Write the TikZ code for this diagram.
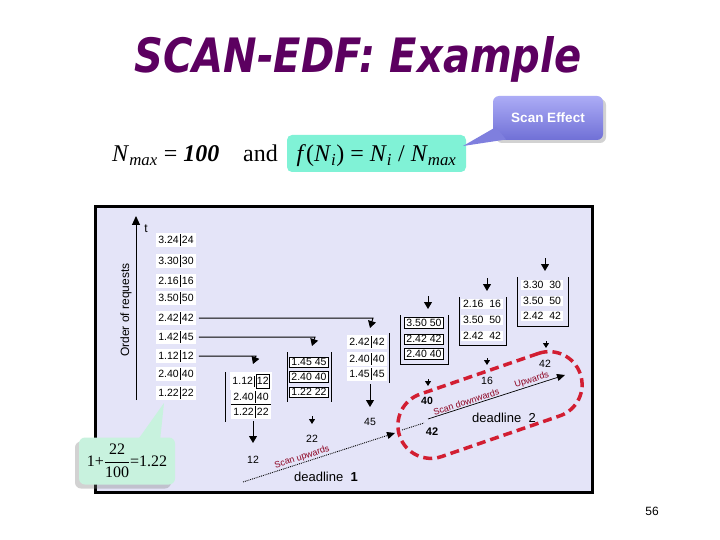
\documentclass[tikz,border=0pt]{standalone}
\usepackage{fontspec}
\setmainfont{Liberation Serif}
\setsansfont{Liberation Sans}
\newfontfamily\titlefont{DejaVu Sans}
\usetikzlibrary{arrows.meta,shadows,calc}
\definecolor{lav}{RGB}{228,228,248}
\definecolor{titlepurple}{RGB}{92,0,96}
\definecolor{aqua}{RGB}{128,242,214}
\definecolor{scanred}{RGB}{210,30,50}
\definecolor{darkred}{RGB}{140,0,30}
\definecolor{mint}{RGB}{200,242,222}
\definecolor{effTop}{RGB}{172,172,246}
\definecolor{effBot}{RGB}{112,112,214}
\newcommand{\pr}[2]{#1\hspace{1.2pt}\vrule width 0.7pt height 9pt depth 2.5pt\hspace{1.2pt}#2}
\tikzset{
  ent/.style={fill=white, inner xsep=2pt, inner ysep=1.5pt, font=\sffamily\fontsize{10.5}{10.5}\selectfont},
  boxent/.style={ent, draw=black, line width=0.6pt},
  conn/.style={line width=1pt, -{Triangle[width=8pt,length=7pt]}},
  smallmark/.style={line width=1pt, -{Triangle[width=6pt,length=5pt]}},
  frame/.style={line width=0.9pt},
  num/.style={font=\sffamily\fontsize{10.5}{10.5}\selectfont, inner sep=1pt},
  scanlbl/.style={text=darkred, font=\sffamily\fontsize{9}{9}\selectfont, inner sep=0.8pt},
  dl/.style={font=\sffamily\fontsize{13}{13}\selectfont}
}
\begin{document}
\begin{tikzpicture}[x=1pt,y=-1pt]
\useasboundingbox (0,0) rectangle (720,540);
\fill[white] (0,0) rectangle (720,540);

% title
\node[anchor=base, text=titlepurple, inner sep=0] (title) at (358,73)
  {\resizebox{447pt}{36pt}{\titlefont\bfseries\itshape SCAN-EDF: Example}};

% formula line
\node[anchor=base west, inner sep=0, font=\fontsize{24}{24}\selectfont] (nmax) at (112,162)
  {\textit{N}\textsubscript{\textit{max}} = \textbf{\textit{100}}};
\node[anchor=base west, inner sep=0, font=\fontsize{24}{24}\selectfont] (and) at (243,162) {and};
\node[fill=aqua, rounded corners=5pt, minimum width=179pt, minimum height=37pt, inner sep=0] (fbox) at (376.5,153.5) {};
\node[anchor=base, inner sep=0, font=\fontsize{24}{24}\selectfont] (ftext) at (376.5,162)
  {\textit{f}(\textit{N}\textsubscript{\textit{i}}) = \textit{N}\textsubscript{\textit{i}} / \textit{N}\textsubscript{\textit{max}}};

% Scan Effect callout
\node[rounded corners=6pt, minimum width=110pt, minimum height=44pt, top color=effTop, bottom color=effBot,
      drop shadow={shadow xshift=3pt, shadow yshift=-3pt, opacity=0.35},
      text=white, font=\sffamily\bfseries\fontsize{13.5}{13.5}\selectfont] (eff) at (548,118) {Scan Effect};
\coordinate (efftip) at (463,146);
\fill[effBot!75!effTop] (496,127) -- (efftip) -- (506,139.5) -- cycle;

% diagram frame
\draw[line width=3pt, fill=lav] (95,207) rectangle (592,492);

% axis
\coordinate (axbot) at (136,400);
\coordinate (axtop) at (136,216);
\draw[line width=1pt, -{Triangle[width=8pt,length=9pt]}] (axbot) -- (axtop);
\node[font=\sffamily\fontsize{12}{12}\selectfont] (tlab) at (146,229) {t};
\node[rotate=90, font=\sffamily\fontsize{12}{12}\selectfont] (order) at (126,310) {Order of requests};

% left column of requests
\node[ent] (L1) at (176,240) {\pr{3.24}{24}};
\node[ent] (L2) at (176,261) {\pr{3.30}{30}};
\node[ent] (L3) at (176,281) {\pr{2.16}{16}};
\node[ent] (L4) at (176,298) {\pr{3.50}{50}};
\node[ent] (L5) at (176,318) {\pr{2.42}{42}};
\node[ent] (L6) at (176,337) {\pr{1.42}{45}};
\node[ent] (L7) at (176,356) {\pr{1.12}{12}};
\node[ent] (L8) at (176,374) {\pr{2.40}{40}};
\node[ent] (L9) at (176,393) {\pr{1.22}{22}};

% arrival connectors
\coordinate (q3in) at (370,328);
\coordinate (q2in) at (312,346);
\coordinate (q1in) at (253,364);
\draw[conn] ([xshift=3pt]L5.east) -- ([xshift=3pt]L5.east -| q3in) -- (q3in);
\draw[conn] ([xshift=3pt]L6.east) -- ([xshift=3pt]L6.east -| q2in) -- (q2in);
\draw[conn] ([xshift=3pt]L7.east) -- ([xshift=3pt]L7.east -| q1in) -- (q1in);

% queue 1
\draw[frame] (225,372) -- (225,422);
\node[ent] (Q1a) at (251,381) {\pr{1.12}{\fbox{\kern-2.5pt12\kern-2.5pt}}};
\node[ent] (Q1b) at (251,397) {\pr{2.40}{40}};
\node[ent] (Q1c) at (251,412) {\pr{1.22}{22}};
\draw[line width=0.6pt] (Q1b.south west) -- (Q1b.south east);
\coordinate (q1out) at (253,421);
\node[num] (o12) at (253,460) {12};
\draw[conn] (q1out) -- (253,443);

% queue 2
\draw[frame] (287,352) -- (287,402);
\draw[frame] (331,352) -- (331,402);
\node[boxent] (Q2a) at (309,362) {1.45\ 45};
\node[boxent] (Q2b) at (309,377) {2.40\ 40};
\node[boxent] (Q2c) at (309,392) {1.22\ 22};
\coordinate (m2a) at (312,416);
\coordinate (m2b) at (312,424);
\draw[smallmark] (m2a) -- (m2b);
\node[num] (o22) at (312,439) {22};

% queue 3
\draw[frame] (389,333) -- (389,383);
\node[ent] (Q3a) at (367,342) {\pr{2.42}{42}};
\node[ent] (Q3b) at (367,359) {\pr{2.40}{40}};
\node[ent] (Q3c) at (367,374) {\pr{1.45}{45}};
\coordinate (q3out) at (370,384);
\node[num] (o45) at (370,422) {45};
\draw[conn] (q3out) -- (370,407);

% queue 4
\coordinate (m4a) at (428,296);
\coordinate (m4b) at (428,309);
\draw[conn] (m4a) -- (m4b);
\draw[frame] (400,315) -- (400,364) -- (448,364) -- (448,315);
\node[boxent] (Q4a) at (424,323) {3.50\ 50};
\node[boxent] (Q4b) at (424,339) {2.42\ 42};
\node[boxent] (Q4c) at (424,354) {2.40\ 40};
\coordinate (m4c) at (428,379);
\coordinate (m4d) at (428,386);
\draw[smallmark] (m4c) -- (m4d);
\node[num, font=\sffamily\bfseries\fontsize{10.5}{10.5}\selectfont] (o40) at (427,401) {40};
\node[num, font=\sffamily\bfseries\fontsize{11}{11}\selectfont] (o42a) at (432,432) {42};

% queue 5
\coordinate (m5a) at (487,278);
\coordinate (m5b) at (487,291);
\draw[conn] (m5a) -- (m5b);
\draw[frame] (459,297) -- (459,345) -- (506,345) -- (506,297);
\node[ent] (Q5a) at (482,304) {2.16\ \ 16};
\node[ent] (Q5b) at (482,320) {3.50\ \ 50};
\node[ent] (Q5c) at (482,336) {2.42\ \ 42};
\coordinate (m5c) at (487,358);
\coordinate (m5d) at (487,365);
\draw[smallmark] (m5c) -- (m5d);
\node[num] (o16) at (487,381) {16};

% queue 6
\coordinate (m6a) at (545,258);
\coordinate (m6b) at (545,271);
\draw[conn] (m6a) -- (m6b);
\draw[frame] (517,277) -- (517,326) -- (568,326) -- (568,277);
\node[ent] (Q6a) at (542,285) {3.30\ \ 30};
\node[ent] (Q6b) at (542,301) {3.50\ \ 50};
\node[ent] (Q6c) at (542,316) {2.42\ \ 42};
\coordinate (m6c) at (546,341);
\coordinate (m6d) at (546,348);
\draw[smallmark] (m6c) -- (m6d);
\node[num] (o42b) at (545,364) {42};

% scan lines
\coordinate (s1a) at (243,482);
\coordinate (s1b) at (395,433);
\draw[densely dotted, line width=0.9pt, -{Triangle[width=7pt,length=8pt]}] (s1a) --
  node[pos=0.4, sloped, above, scanlbl] {Scan upwards} (s1b);
\coordinate (s1c) at (402,430);
\coordinate (s1d) at (424,423);
\draw[densely dotted, line width=0.9pt] (s1c) -- (s1d);
\node[dl] (dl1) at (326,477) {deadline\ \ \textbf{1}};

\coordinate (s2a) at (428,419);
\coordinate (s2b) at (565,375);
\draw[line width=0.7pt, -{Triangle[width=7pt,length=8pt]}] (s2a) --
  node[pos=0.29, sloped, above, scanlbl] {Scan downwards}
  node[pos=0.77, sloped, above, scanlbl] {Upwards} (s2b);
\node[dl] (dl2) at (504,418) {deadline\ \ 2};

% red dashed loop
\node[draw=scanred, line width=3.5pt, dash pattern=on 9pt off 5pt, rounded corners=33pt,
      minimum width=191pt, minimum height=66pt, rotate=19, inner sep=0] (loop) at (490,405) {};

% bottom-left callout
\node[fill=mint, rounded corners=6pt, minimum width=96pt, minimum height=47pt,
      drop shadow={shadow xshift=-4pt, shadow yshift=-4pt, opacity=0.35, fill=gray}, inner sep=0] (calc) at (127,461) {};
\coordinate (calctip) at (164,403);
\fill[mint] (137,441) -- (calctip) -- (160,441) -- cycle;
\node[inner sep=0, font=\fontsize{16}{16}\selectfont] (calctext) at (127,461)
  {$\displaystyle \textrm{1+}\frac{\textrm{22}}{\textrm{100}}\textrm{=1.22}$};

% page number
\node[font=\sffamily\fontsize{12}{12}\selectfont] (pg) at (652,511) {56};
\end{tikzpicture}
\end{document}
